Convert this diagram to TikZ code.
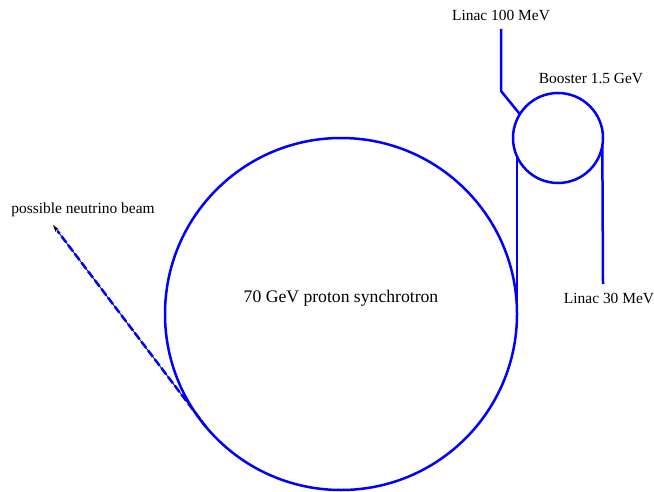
\documentclass[tikz,border=0pt]{standalone}
\usepackage{fontspec}
\setmainfont{Liberation Serif}
\usetikzlibrary{arrows.meta, calc}
\definecolor{cbeam}{HTML}{0000FF}
\tikzset{
  every picture/.style={line width=1.7pt},
  ring/.style={circle, draw=cbeam, inner sep=0pt, outer sep=0pt, minimum size=#1},
  beamline/.style={draw=cbeam, line width=1.7pt},
  lbl/.style={font=\fontsize{10.5}{12}\selectfont, inner sep=1pt},
}
\begin{document}
\begin{tikzpicture}[x=0.68pt, y=0.68pt]
  \useasboundingbox (0,0) rectangle (654,491);
  % rings
  \node[ring=352*0.68pt] (sync) at (341,177) {};
  \node[ring=90*0.68pt] (booster) at (558,353) {};
  \node[lbl, font=\fontsize{12}{14}\selectfont] (synclbl) at (341,193) {70 GeV proton synchrotron};
  \node[lbl] (boostlbl) at (591,412) {Booster 1.5 GeV};
  % injection lines
  \coordinate (l100) at (501,462); \coordinate (l100k) at (501,400); \coordinate (l30) at (603,207);
  \node[lbl] (l100lbl) at (501,476) {Linac 100 MeV};
  \node[lbl] (l30lbl) at (609,193) {Linac 30 MeV};
  \draw[beamline] (l100) -- (l100k) -- (booster.148);
  \draw[beamline] (booster.204) -- (booster.204 |- sync.east);
  \draw[beamline] (booster.-10) -- (l30);
  % neutrino beam
  \coordinate (nu) at (53,266);
  \node[lbl] (nulbl) at (83,281) {possible neutrino beam};
  \draw[black, line width=0.5pt, -{Stealth[length=5pt, width=3pt]}] (sync.220) -- (nu);
  \draw[beamline, dash pattern=on 5.5pt off 2pt] (sync.220) -- ($(sync.220)!0.97!(nu)$);
\end{tikzpicture}
\end{document}
